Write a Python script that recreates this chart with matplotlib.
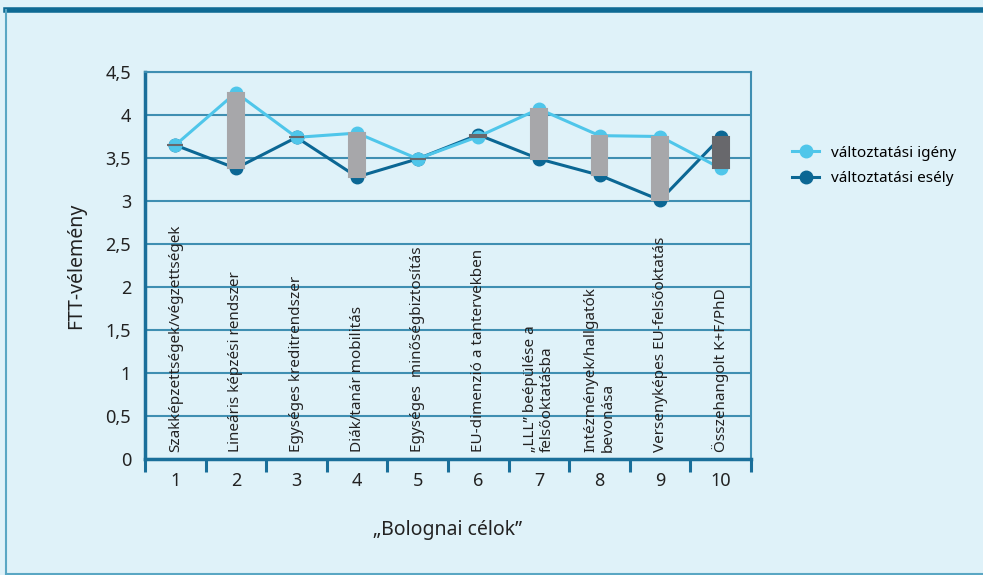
import numpy as np
import matplotlib
matplotlib.use("Agg")
import matplotlib.pyplot as plt
from matplotlib.lines import Line2D

# Bologna goals: demand for change vs. chance of change (FTT opinion)
categories = [1, 2, 3, 4, 5, 6, 7, 8, 9, 10]
goal_labels = [
    "Szakképzettségek/végzettségek",
    "Lineáris képzési rendszer",
    "Egységes kreditrendszer",
    "Diák/tanár mobilitás",
    "Egységes  minőségbiztosítás",
    "EU-dimenzió a tantervekben",
    "„LLL” beépülése a\nfelsőoktatásba",
    "Intézmények/hallgatók\nbevonása",
    "Versenyképes EU-felsőoktatás",
    "Összehangolt K+F/PhD",
]
igeny = [3.65, 4.26, 3.74, 3.79, 3.49, 3.75, 4.07, 3.76, 3.75, 3.38]
esely = [3.65, 3.38, 3.74, 3.28, 3.49, 3.77, 3.49, 3.30, 3.01, 3.74]
yticks = [0, 0.5, 1, 1.5, 2, 2.5, 3, 3.5, 4, 4.5]
ytick_labels = ["0", "0,5", "1", "1,5", "2", "2,5", "3", "3,5", "4", "4,5"]

BG = "#dff2f9"
LIGHT = "#4fc6ea"
DARK = "#0b6794"
GRID = "#3f8fb2"
SPINE = "#1a6f9a"
TXT = "#222222"

plt.rcParams["font.family"] = ["Noto Sans", "DejaVu Sans"]

fig = plt.figure(figsize=(9.83, 5.75), dpi=100, facecolor=BG)
ax = fig.add_axes([145 / 983, 116 / 575, 606 / 983, 387 / 575])
ax.set_facecolor(BG)

x = np.array(categories)
ax.plot(x, esely, color=DARK, lw=2.2, marker="o", ms=9, zorder=3, label="változtatási esély")
ax.plot(x, igeny, color=LIGHT, lw=2.2, marker="o", ms=9, zorder=3.1, label="változtatási igény")

# up/down bars between the two series
lo = np.minimum(igeny, esely)
hi = np.maximum(igeny, esely)
cols = ["#68686c" if e > i or abs(e - i) < 0.02 else "#a7a7aa" for i, e in zip(igeny, esely)]
ax.bar(x, hi - lo, bottom=lo, width=0.26, color=cols, edgecolor=cols, lw=1.5, zorder=4)

ax.set_xlim(0.5, 10.5)
ax.set_ylim(0, 4.5)
ax.set_yticks(yticks)
ax.set_yticklabels(ytick_labels, fontsize=13, color=TXT)
ax.tick_params(axis="y", length=0, pad=10)
ax.set_xticks(x)
ax.set_xticklabels([str(c) for c in categories], fontsize=13, color=TXT)
ax.tick_params(axis="x", length=0, pad=9)
ax.set_xticks(np.arange(0.5, 10.6, 1), minor=True)
ax.tick_params(axis="x", which="minor", length=9, width=2.2, color=SPINE, direction="out")
ax.yaxis.grid(True, color=GRID, lw=1.5)
ax.set_axisbelow(True)

for side in ["left", "bottom"]:
    ax.spines[side].set_color(SPINE)
    ax.spines[side].set_linewidth(2.5)
for side in ["top", "right"]:
    ax.spines[side].set_color(GRID)
    ax.spines[side].set_linewidth(1.5)

for xi, lab in zip(x, goal_labels):
    ax.text(xi, 0.08, lab, rotation=90, ha="center", va="bottom", multialignment="left",
            fontsize=11, color=TXT, zorder=5)

ax.set_ylabel("FTT-vélemény", fontsize=14, color=TXT, labelpad=14)
ax.set_xlabel("„Bolognai célok”", fontsize=14, color=TXT, labelpad=22)

handles = [
    Line2D([], [], color=LIGHT, lw=2.2, marker="o", ms=9),
    Line2D([], [], color=DARK, lw=2.2, marker="o", ms=9),
]
fig.legend(handles, ["változtatási igény", "változtatási esély"], loc="center left",
           bbox_to_anchor=(778 / 983, 1 - 166 / 575), frameon=False, fontsize=11,
           handlelength=1.8, labelspacing=0.7)

# outer frame
fig.add_artist(Line2D([6 / 983, 1], [1 - 10 / 575, 1 - 10 / 575], color="#0e6a94", lw=4))
fig.add_artist(Line2D([6 / 983, 6 / 983], [1 / 575, 1 - 10 / 575], color="#5aa7c4", lw=1.5))
fig.add_artist(Line2D([6 / 983, 1], [1 / 575, 1 / 575], color="#5aa7c4", lw=1.5))

fig.savefig("out.png", dpi=100, facecolor=BG)
